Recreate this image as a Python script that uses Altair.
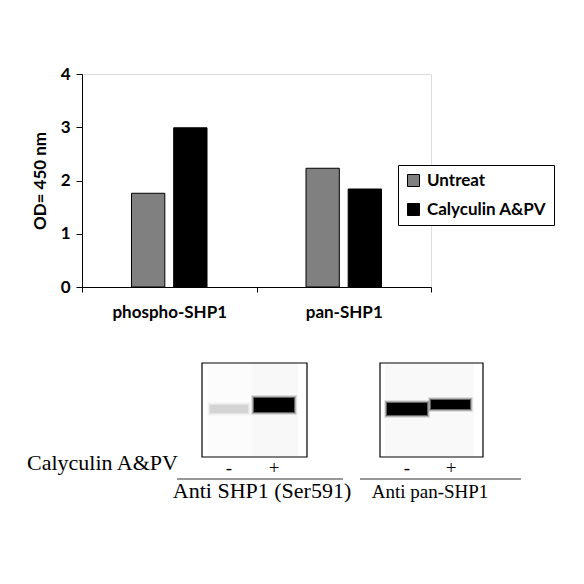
import altair as alt
import pandas as pd

# ---------------- bar chart data ----------------
targets = ["phospho-SHP1", "phospho-SHP1", "pan-SHP1", "pan-SHP1"]
treatments = ["Untreat", "Calyculin A&PV", "Untreat", "Calyculin A&PV"]
od_values = [1.76, 2.99, 2.23, 1.84]
target_order = ["phospho-SHP1", "pan-SHP1"]
treat_order = ["Untreat", "Calyculin A&PV"]
treat_colors = ["#808080", "#000000"]
y_ticks = [0, 1, 2, 3, 4]

# ---------------- blot data (page-pixel coordinates) ----------------
box_x0 = [202, 380]
box_x1 = [307, 483]
box_y0 = [363, 363]
box_y1 = [457, 457]

lane_x0 = [208, 252, 385, 429]
lane_x1 = [252, 298, 429, 474]
lane_shade = ["#fcfcfc", "#f8f8f8", "#f9f9f9", "#f9f9f9"]

band_x0 = [210, 254, 387, 431]
band_x1 = [248, 294, 427, 470]
band_y0 = [405, 398, 403, 400]
band_y1 = [413, 412, 415, 409]
band_color = ["#d4d4d4", "#000000", "#000000", "#000000"]

sign_labels = ["-", "+", "-", "+"]
sign_x = [229, 274, 407, 451]
sign_y = [474, 474, 474, 474]

rule_x0 = [177, 360]
rule_x1 = [343, 521]
rule_y = [479, 479]

antibody_labels = ["Anti SHP1 (Ser591)", "Anti pan-SHP1"]
antibody_x = [262, 430]
antibody_y = [498, 498]
antibody_size = [22, 19]

row_label = ["Calyculin A&PV"]
row_label_x = [27]
row_label_y = [470]

# ---------------- layout ----------------
PAD_L, PAD_T = 74, 66
W, H = 349, 213

bars_df = pd.DataFrame({"target": targets, "treatment": treatments, "od": od_values})

bars = alt.Chart(bars_df).mark_bar(stroke="black", strokeWidth=1).encode(
    x=alt.X("target:N", sort=target_order,
            scale=alt.Scale(paddingInner=0, paddingOuter=0),
            axis=alt.Axis(title=None, labelAngle=0, tickBand="extent", tickSize=5,
                          labelPadding=12, labelFontSize=17, labelFont="Lato",
                          labelFontWeight="bold", labelColor="black",
                          domainColor="black", tickColor="black")),
    xOffset=alt.XOffset("treatment:N", sort=treat_order,
                        scale=alt.Scale(paddingInner=0.21, paddingOuter=0,
                                        range=[49.5, 125])),
    y=alt.Y("od:Q", scale=alt.Scale(domain=[0, 4]),
            axis=alt.Axis(values=y_ticks, format="d", title="OD= 450 nm", grid=False,
                          tickSize=6, labelPadding=6, labelFontSize=17, labelFont="Lato",
                          labelFontWeight="bold", labelColor="black",
                          titleFont="Lato", titleFontSize=17, titleFontWeight="bold",
                          titleColor="black", titlePadding=11,
                          domainColor="black", tickColor="black")),
    color=alt.Color("treatment:N", sort=treat_order,
                    scale=alt.Scale(domain=treat_order, range=treat_colors),
                    legend=alt.Legend(title=None, orient="none", legendX=316, legendY=91,
                                      fillColor="white", strokeColor="black", padding=7,
                                      symbolType="square", symbolSize=144,
                                      symbolStrokeColor="black", symbolStrokeWidth=1,
                                      labelFont="Lato", labelFontWeight="bold",
                                      labelFontSize=17, labelColor="black",
                                      rowPadding=11, labelOffset=5, cornerRadius=0)),
)

# page-pixel scales for the blot section
xs = alt.Scale(domain=[0, 584], range=[-PAD_L - 8, 584 - PAD_L - 8])
ys = alt.Scale(domain=[0, 584], range=[-PAD_T - 8, 584 - PAD_T - 8])


def X(f):
    return alt.X(f, type="quantitative", scale=xs, axis=None)


def Y(f):
    return alt.Y(f, type="quantitative", scale=ys, axis=None)


lanes_df = pd.DataFrame({"x0": lane_x0, "x1": lane_x1, "shade": lane_shade,
                         "y0": [box_y0[0] + 1] * 4, "y1": [box_y1[0] - 1] * 4})
lanes = alt.Chart(lanes_df).mark_rect().encode(
    x=X("x0"), x2="x1", y=Y("y0"), y2="y1",
    color=alt.Color("shade:N", scale=None))

# soft-edged bands: core plus halos
rows = []
for i in range(len(band_x0)):
    for grow, op in [(3, 0.1), (2, 0.2), (1, 0.45), (0, 1.0)]:
        rows.append({"x0": band_x0[i] - grow, "x1": band_x1[i] + grow,
                     "y0": band_y0[i] - grow, "y1": band_y1[i] + grow,
                     "c": band_color[i], "op": op, "order": 3 - grow})
bands_df = pd.DataFrame(rows)
bands = alt.Chart(bands_df).mark_rect().encode(
    x=X("x0"), x2="x1", y=Y("y0"), y2="y1",
    color=alt.Color("c:N", scale=None),
    opacity=alt.Opacity("op:Q", scale=None),
    order="order:Q")

boxes_df = pd.DataFrame({"x0": box_x0, "x1": box_x1, "y0": box_y0, "y1": box_y1})
boxes = alt.Chart(boxes_df).mark_rect(fill=None, stroke="black", strokeWidth=1.2).encode(
    x=X("x0"), x2="x1", y=Y("y0"), y2="y1")

signs_df = pd.DataFrame({"t": sign_labels, "x": sign_x, "y": sign_y})
signs = alt.Chart(signs_df).mark_text(font="Liberation Serif", fontSize=19,
                                      baseline="alphabetic", align="center",
                                      color="black").encode(
    x=X("x"), y=Y("y"), text="t:N")

rules_df = pd.DataFrame({"x0": rule_x0, "x1": rule_x1, "y": rule_y})
rules = alt.Chart(rules_df).mark_rule(color="#333333", strokeWidth=1).encode(
    x=X("x0"), x2="x1", y=Y("y"))

ab_df = pd.DataFrame({"t": antibody_labels, "x": antibody_x, "y": antibody_y,
                      "s": antibody_size})
ab = alt.Chart(ab_df).mark_text(font="Liberation Serif", baseline="alphabetic",
                                align="center", color="black").encode(
    x=X("x"), y=Y("y"), text="t:N", size=alt.Size("s:Q", scale=None))

row_df = pd.DataFrame({"t": row_label, "x": row_label_x, "y": row_label_y})
rowtxt = alt.Chart(row_df).mark_text(font="Liberation Serif", fontSize=22,
                                     baseline="alphabetic", align="left",
                                     color="black").encode(
    x=X("x"), y=Y("y"), text="t:N")

blot = alt.layer(lanes, bands, boxes, signs, rules, ab, rowtxt)

chart = alt.layer(bars, blot).resolve_scale(
    x="independent", y="independent", color="independent",
    opacity="independent", size="independent"
).properties(
    width=W, height=H,
    autosize=alt.AutoSizeParams(type="none"),
    padding={"left": PAD_L, "top": PAD_T, "right": 568 - PAD_L - W,
             "bottom": 568 - PAD_T - H},
).configure_view(stroke="black", strokeWidth=1).configure(background="white")

chart.save("out.html", embed_options={"renderer": "svg", "actions": False})
